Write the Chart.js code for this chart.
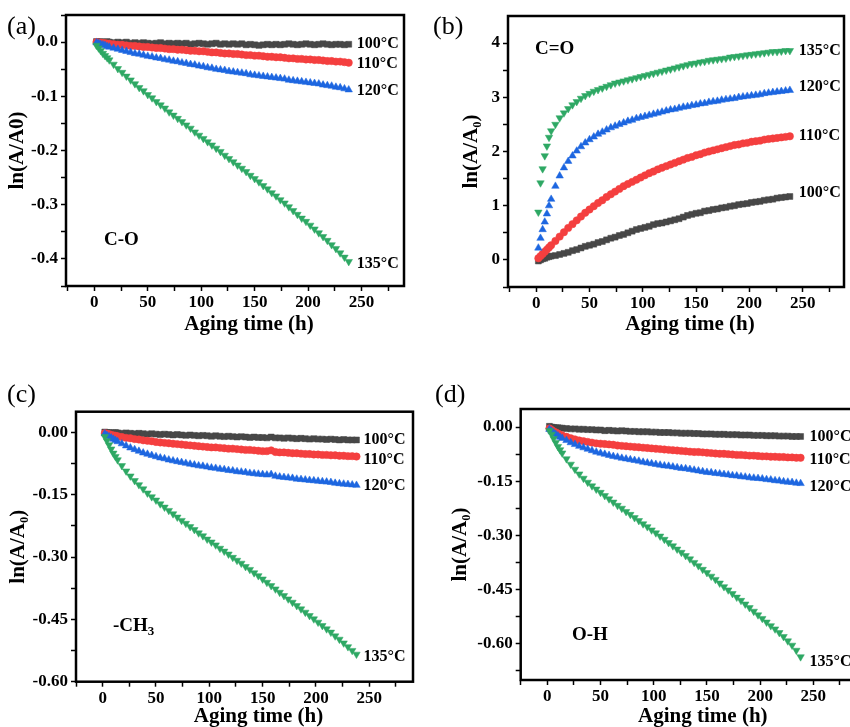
<!DOCTYPE html>
<html lang="en">
<head>
<meta charset="UTF-8">
<title>ln(A/A0) vs aging time</title>
<script src="https://cdn.jsdelivr.net/npm/chart.js"></script>
<style>
  body { margin: 0; background: #fff; width: 850px; height: 727px; overflow: hidden; position: relative; font-family: 'Liberation Serif', 'Times New Roman', serif; }
  canvas { position: absolute; }
  .tag { position: absolute; font-size: 26px; line-height: 26px; color: #000; }
  .grp { position: absolute; font-size: 19px; line-height: 19px; font-weight: bold; color: #000; }
  .grp sub { font-size: 13px; vertical-align: -4px; line-height: 0; }
</style>
</head>
<body>
<canvas id="chA" width="425" height="345" style="left:0;top:0"></canvas>
<canvas id="chB" width="425" height="345" style="left:425px;top:0"></canvas>
<canvas id="chC" width="425" height="357" style="left:0;top:370px"></canvas>
<canvas id="chD" width="444" height="357" style="left:425px;top:370px"></canvas>

<div class="tag" style="left:7px;top:13px">(a)</div>
<div class="tag" style="left:433px;top:13px">(b)</div>
<div class="tag" style="left:7px;top:381px">(c)</div>
<div class="tag" style="left:435px;top:381px">(d)</div>

<div class="grp" style="left:104px;top:229px">C-O</div>
<div class="grp" style="left:535px;top:38px">C=O</div>
<div class="grp" style="left:113px;top:615px">-CH<sub>3</sub></div>
<div class="grp" style="left:572px;top:624px">O-H</div>

<script>
// aging time (h) shared by every series
const hours = [2, 4, 6, 8, 10, 12, 14,
  18, 22, 26, 30, 34, 38, 42, 46,
  50, 54, 58, 62, 66, 70, 74, 78,
  82, 86, 90, 94, 98, 102, 106, 110,
  114, 118, 122, 126, 130, 134, 138, 142,
  146, 150, 154, 158, 162, 166, 170, 174,
  178, 182, 186, 190, 194, 198, 202, 206,
  210, 214, 218, 222, 226, 230, 234, 238];

const temps = ['100°C', '110°C', '120°C', '135°C'];

// (a) C-O
const co100 = [0.001,0.000,0.001,0.000,-0.001,0.001,0.000,
  -0.001,0.000,-0.001,0.000,-0.002,-0.001,-0.002,-0.001,
  -0.002,-0.003,-0.002,-0.001,-0.003,-0.002,-0.003,-0.002,
  -0.003,-0.002,-0.004,-0.003,-0.002,-0.003,-0.004,-0.003,
  -0.002,-0.004,-0.003,-0.004,-0.003,-0.004,-0.003,-0.005,
  -0.004,-0.005,-0.006,-0.005,-0.004,-0.005,-0.004,-0.005,
  -0.004,-0.003,-0.004,-0.005,-0.004,-0.003,-0.004,-0.005,
  -0.004,-0.003,-0.004,-0.005,-0.004,-0.004,-0.005,-0.004];
const co110 = [0.000,-0.001,-0.001,-0.002,-0.002,-0.003,-0.003,
  -0.004,-0.005,-0.005,-0.006,-0.007,-0.007,-0.008,-0.009,
  -0.009,-0.010,-0.011,-0.011,-0.012,-0.013,-0.013,-0.014,
  -0.014,-0.015,-0.016,-0.016,-0.017,-0.017,-0.018,-0.019,
  -0.019,-0.020,-0.021,-0.021,-0.022,-0.022,-0.023,-0.024,
  -0.024,-0.025,-0.025,-0.026,-0.027,-0.027,-0.028,-0.028,
  -0.029,-0.030,-0.030,-0.031,-0.031,-0.032,-0.032,-0.033,
  -0.033,-0.034,-0.035,-0.035,-0.036,-0.036,-0.037,-0.038];
const co120 = [-0.001,-0.002,-0.004,-0.005,-0.006,-0.008,-0.009,
  -0.011,-0.013,-0.015,-0.017,-0.019,-0.021,-0.022,-0.024,
  -0.026,-0.027,-0.029,-0.030,-0.032,-0.033,-0.035,-0.036,
  -0.038,-0.039,-0.041,-0.042,-0.044,-0.045,-0.047,-0.048,
  -0.050,-0.051,-0.052,-0.054,-0.055,-0.056,-0.057,-0.058,
  -0.060,-0.061,-0.062,-0.063,-0.064,-0.065,-0.066,-0.067,
  -0.068,-0.070,-0.071,-0.072,-0.073,-0.074,-0.075,-0.076,
  -0.077,-0.079,-0.080,-0.081,-0.083,-0.084,-0.086,-0.088];
const co135 = [-0.006,-0.011,-0.016,-0.021,-0.025,-0.029,-0.033,
  -0.041,-0.049,-0.056,-0.063,-0.070,-0.077,-0.084,-0.090,
  -0.097,-0.103,-0.110,-0.116,-0.122,-0.129,-0.135,-0.141,
  -0.147,-0.153,-0.159,-0.166,-0.172,-0.178,-0.184,-0.190,
  -0.196,-0.202,-0.209,-0.215,-0.221,-0.227,-0.233,-0.239,
  -0.246,-0.252,-0.258,-0.265,-0.271,-0.278,-0.284,-0.291,
  -0.297,-0.304,-0.311,-0.318,-0.325,-0.331,-0.338,-0.345,
  -0.352,-0.359,-0.366,-0.374,-0.381,-0.389,-0.397,-0.405];

// (b) C=O
const cdo100 = [-0.02,0.00,0.02,0.03,0.05,0.06,0.07,
  0.08,0.10,0.12,0.14,0.17,0.19,0.22,0.25,
  0.27,0.29,0.32,0.34,0.37,0.40,0.42,0.45,
  0.47,0.50,0.53,0.56,0.58,0.60,0.62,0.65,
  0.67,0.68,0.70,0.72,0.74,0.76,0.79,0.82,
  0.84,0.86,0.87,0.90,0.91,0.93,0.94,0.96,
  0.97,0.99,1.00,1.02,1.03,1.04,1.06,1.07,
  1.08,1.10,1.11,1.12,1.14,1.15,1.16,1.17];
const cdo110 = [0.03,0.07,0.11,0.15,0.19,0.23,0.27,
  0.35,0.43,0.51,0.59,0.66,0.73,0.80,0.87,
  0.93,0.99,1.05,1.10,1.16,1.21,1.26,1.31,
  1.36,1.40,1.44,1.48,1.52,1.56,1.60,1.63,
  1.67,1.70,1.73,1.76,1.79,1.82,1.85,1.88,
  1.90,1.93,1.95,1.98,2.00,2.02,2.04,2.06,
  2.08,2.10,2.12,2.13,2.15,2.16,2.18,2.19,
  2.20,2.22,2.23,2.24,2.25,2.26,2.27,2.28];
const cdo120 = [0.22,0.40,0.56,0.70,0.85,1.00,1.12,
  1.36,1.55,1.70,1.82,1.92,2.01,2.09,2.16,
  2.22,2.27,2.32,2.36,2.40,2.44,2.47,2.50,
  2.53,2.56,2.58,2.61,2.63,2.65,2.67,2.69,
  2.71,2.73,2.75,2.77,2.78,2.80,2.82,2.83,
  2.85,2.86,2.88,2.89,2.91,2.92,2.93,2.95,
  2.96,2.97,2.98,3.00,3.01,3.02,3.03,3.04,
  3.05,3.07,3.08,3.09,3.10,3.11,3.12,3.13];
const cdo135 = [0.88,1.42,1.68,1.92,2.10,2.26,2.38,
  2.50,2.62,2.71,2.79,2.86,2.92,2.98,3.03,
  3.07,3.11,3.14,3.17,3.20,3.23,3.26,3.28,
  3.30,3.32,3.34,3.36,3.38,3.40,3.42,3.44,
  3.46,3.48,3.50,3.52,3.54,3.56,3.58,3.60,
  3.62,3.63,3.65,3.66,3.68,3.69,3.70,3.71,
  3.72,3.74,3.75,3.76,3.77,3.78,3.79,3.80,
  3.81,3.82,3.83,3.84,3.84,3.85,3.86,3.86];

// (c) -CH3
const ch100 = [0.001,0.000,0.000,-0.001,-0.001,0.000,-0.001,
  -0.002,-0.001,-0.002,-0.003,-0.002,-0.003,-0.004,-0.003,
  -0.004,-0.005,-0.004,-0.005,-0.006,-0.005,-0.006,-0.007,
  -0.006,-0.007,-0.008,-0.007,-0.008,-0.009,-0.008,-0.009,
  -0.010,-0.009,-0.010,-0.011,-0.010,-0.011,-0.012,-0.011,
  -0.012,-0.012,-0.013,-0.011,-0.013,-0.013,-0.014,-0.013,
  -0.014,-0.015,-0.014,-0.015,-0.016,-0.015,-0.016,-0.016,
  -0.017,-0.016,-0.017,-0.018,-0.017,-0.018,-0.018,-0.018];
const ch110 = [-0.002,-0.003,-0.004,-0.006,-0.007,-0.008,-0.009,
  -0.011,-0.013,-0.014,-0.016,-0.017,-0.019,-0.020,-0.021,
  -0.023,-0.024,-0.025,-0.026,-0.027,-0.028,-0.029,-0.030,
  -0.031,-0.032,-0.033,-0.034,-0.035,-0.036,-0.036,-0.037,
  -0.038,-0.039,-0.039,-0.040,-0.041,-0.042,-0.042,-0.043,
  -0.044,-0.045,-0.045,-0.043,-0.047,-0.048,-0.048,-0.049,
  -0.050,-0.050,-0.051,-0.052,-0.052,-0.053,-0.053,-0.054,
  -0.054,-0.055,-0.055,-0.056,-0.056,-0.057,-0.057,-0.058];
const ch120 = [-0.003,-0.007,-0.010,-0.013,-0.016,-0.019,-0.022,
  -0.027,-0.032,-0.037,-0.041,-0.045,-0.049,-0.052,-0.055,
  -0.058,-0.061,-0.063,-0.066,-0.068,-0.070,-0.072,-0.074,
  -0.076,-0.078,-0.080,-0.081,-0.083,-0.085,-0.086,-0.088,
  -0.089,-0.091,-0.092,-0.094,-0.095,-0.096,-0.098,-0.099,
  -0.100,-0.101,-0.102,-0.101,-0.105,-0.107,-0.108,-0.109,
  -0.110,-0.112,-0.113,-0.114,-0.115,-0.116,-0.117,-0.118,
  -0.119,-0.120,-0.122,-0.123,-0.124,-0.125,-0.126,-0.127];
const ch135 = [-0.010,-0.020,-0.030,-0.040,-0.050,-0.058,-0.066,
  -0.080,-0.093,-0.105,-0.116,-0.126,-0.136,-0.146,-0.155,
  -0.163,-0.172,-0.180,-0.188,-0.196,-0.204,-0.212,-0.219,
  -0.227,-0.234,-0.242,-0.249,-0.257,-0.264,-0.271,-0.279,
  -0.286,-0.293,-0.301,-0.308,-0.315,-0.323,-0.330,-0.338,
  -0.345,-0.353,-0.361,-0.369,-0.377,-0.385,-0.393,-0.401,
  -0.409,-0.417,-0.425,-0.433,-0.441,-0.449,-0.457,-0.465,
  -0.473,-0.481,-0.490,-0.498,-0.507,-0.516,-0.525,-0.534];

// (d) O-H
const oh100 = [0.002,0.000,-0.001,-0.002,-0.002,-0.003,-0.003,
  -0.004,-0.005,-0.005,-0.006,-0.006,-0.007,-0.007,-0.008,
  -0.008,-0.010,-0.009,-0.010,-0.011,-0.010,-0.011,-0.012,
  -0.012,-0.013,-0.013,-0.013,-0.014,-0.014,-0.015,-0.015,
  -0.015,-0.016,-0.016,-0.017,-0.017,-0.017,-0.018,-0.018,
  -0.019,-0.019,-0.019,-0.020,-0.020,-0.020,-0.021,-0.021,
  -0.021,-0.022,-0.022,-0.022,-0.023,-0.023,-0.023,-0.024,
  -0.024,-0.024,-0.025,-0.025,-0.025,-0.026,-0.026,-0.026];
const oh110 = [-0.004,-0.008,-0.012,-0.015,-0.018,-0.021,-0.023,
  -0.027,-0.031,-0.034,-0.037,-0.039,-0.041,-0.043,-0.045,
  -0.046,-0.047,-0.048,-0.049,-0.051,-0.052,-0.053,-0.054,
  -0.055,-0.056,-0.057,-0.058,-0.059,-0.060,-0.061,-0.062,
  -0.063,-0.064,-0.065,-0.066,-0.067,-0.068,-0.069,-0.069,
  -0.070,-0.071,-0.072,-0.073,-0.074,-0.074,-0.075,-0.076,
  -0.077,-0.077,-0.078,-0.079,-0.079,-0.080,-0.081,-0.081,
  -0.082,-0.082,-0.083,-0.083,-0.084,-0.084,-0.085,-0.085];
const oh120 = [-0.006,-0.011,-0.016,-0.020,-0.024,-0.028,-0.031,
  -0.037,-0.043,-0.048,-0.053,-0.057,-0.061,-0.065,-0.069,
  -0.072,-0.075,-0.078,-0.081,-0.083,-0.086,-0.088,-0.090,
  -0.092,-0.094,-0.097,-0.099,-0.101,-0.103,-0.105,-0.107,
  -0.108,-0.110,-0.112,-0.114,-0.115,-0.117,-0.119,-0.121,
  -0.123,-0.125,-0.126,-0.128,-0.129,-0.131,-0.132,-0.134,
  -0.135,-0.137,-0.138,-0.140,-0.141,-0.142,-0.143,-0.145,
  -0.146,-0.148,-0.149,-0.151,-0.152,-0.153,-0.155,-0.156];
const oh135 = [-0.010,-0.020,-0.032,-0.043,-0.054,-0.063,-0.072,
  -0.088,-0.103,-0.117,-0.130,-0.142,-0.153,-0.163,-0.172,
  -0.181,-0.190,-0.199,-0.208,-0.217,-0.225,-0.234,-0.242,
  -0.251,-0.259,-0.268,-0.276,-0.285,-0.293,-0.302,-0.311,
  -0.320,-0.329,-0.338,-0.347,-0.356,-0.365,-0.375,-0.384,
  -0.394,-0.403,-0.413,-0.422,-0.432,-0.442,-0.451,-0.461,
  -0.471,-0.480,-0.490,-0.500,-0.510,-0.520,-0.530,-0.540,
  -0.550,-0.559,-0.569,-0.580,-0.592,-0.604,-0.618,-0.636];

// axis ticks
const xMajor = [0, 50, 100, 150, 200, 250];
const xMinor = [-25, 25, 75, 125, 175, 225, 275];
const yMajorA = [0, -0.1, -0.2, -0.3, -0.4];
const yMinorA = [0.05, -0.05, -0.15, -0.25, -0.35, -0.45];
const yMajorB = [0, 1, 2, 3, 4];
const yMinorB = [-0.5, 0.5, 1.5, 2.5, 3.5];
const yMajorC = [0, -0.15, -0.30, -0.45, -0.60];
const yMinorC = [-0.075, -0.225, -0.375, -0.525];
const yMajorD = [0, -0.15, -0.30, -0.45, -0.60];
const yMinorD = [-0.075, -0.225, -0.375, -0.525, -0.675];

const colors = ['#474747', '#f43f3f', '#1d66e0', '#2ea864'];
const shapes = ['rect', 'circle', 'triangle', 'triangle'];
const sizes = [4.2, 3.7, 4.3, 4.3];
const serif = "'Liberation Serif', 'Times New Roman', serif";

Chart.defaults.font.family = serif;
Chart.defaults.color = '#000';

const framePlugin = {
  id: 'frame',
  afterDraw(chart) {
    const a = chart.chartArea, ctx = chart.ctx;
    ctx.save();
    ctx.lineWidth = 2.5;
    ctx.strokeStyle = '#000';
    ctx.strokeRect(a.left, a.top, a.right - a.left, a.bottom - a.top);
    ctx.restore();
  }
};

// x title, Origin puts it a little right of the frame centre
const xTitle = {
  id: 'xTitle',
  afterDraw(chart, args, opts) {
    const a = chart.chartArea, ctx = chart.ctx;
    ctx.save();
    ctx.font = 'bold 21px ' + serif;
    ctx.fillStyle = '#000';
    ctx.textAlign = 'center';
    ctx.textBaseline = 'middle';
    ctx.fillText('Aging time (h)', (a.left + a.right) / 2 + opts.dx, a.bottom + opts.dy);
    ctx.restore();
  }
};

// temperature tag next to the last point of each series
const endLabels = {
  id: 'endLabels',
  afterDatasetsDraw(chart, args, opts) {
    const ctx = chart.ctx;
    ctx.save();
    ctx.font = 'bold 16px ' + serif;
    ctx.fillStyle = '#000';
    ctx.textBaseline = 'middle';
    chart.data.datasets.forEach((ds, i) => {
      const pts = chart.getDatasetMeta(i).data;
      const p = pts[pts.length - 1];
      ctx.fillText(ds.label, p.x + opts.dx, p.y + opts.dy[ds.idx]);
    });
    ctx.restore();
  }
};

function makeTicks(major, minor) {
  return major.concat(minor).sort((a, b) => a - b).map(v => ({ value: v }));
}

function makePanel(id, series, p) {
  const datasets = series.map((arr, i) => ({
    label: temps[i],
    idx: i,
    order: 3 - i,
    data: hours.map((h, k) => ({ x: h, y: arr[k] })),
    showLine: false,
    pointStyle: shapes[i],
    rotation: i === 3 ? 180 : 0,
    pointRadius: sizes[i],
    pointBorderWidth: 0.5,
    backgroundColor: colors[i],
    borderColor: colors[i]
  }));
  new Chart(document.getElementById(id), {
    type: 'scatter',
    data: { datasets },
    options: {
      responsive: false,
      animation: false,
      devicePixelRatio: 1,
      layout: { padding: { left: 0, top: p.padTop, right: p.padRight, bottom: 0 } },
      plugins: {
        legend: { display: false },
        tooltip: { enabled: false },
        endLabels: { dx: p.labelDx, dy: p.labelDy },
        xTitle: { dx: 14, dy: p.xTitleY }
      },
      scales: {
        x: {
          type: 'linear',
          min: p.xMin, max: p.xMax,
          afterBuildTicks: s => { s.ticks = makeTicks(xMajor, xMinor); },
          afterFit: s => { s.height = p.xAxisH; },
          border: { display: false },
          grid: { drawOnChartArea: false, drawTicks: true, tickLength: 5, tickColor: '#000', tickWidth: 1.5 },
          ticks: {
            autoSkip: false, maxRotation: 0, padding: 3,
            font: { size: 17, weight: 'bold', lineHeight: 1 },
            callback: v => xMajor.includes(v) ? String(v) : ''
          },
          title: { display: false }
        },
        y: {
          type: 'linear',
          min: p.yMin, max: p.yMax,
          afterBuildTicks: s => { s.ticks = makeTicks(p.yMajor, p.yMinor); },
          afterFit: s => { s.width = p.yAxisW; },
          border: { display: false },
          grid: { drawOnChartArea: false, drawTicks: true, tickLength: 5, tickColor: '#000', tickWidth: 1.5 },
          ticks: {
            autoSkip: false, padding: 3,
            font: { size: 17, weight: 'bold', lineHeight: 1 },
            callback: v => p.yMajor.includes(v) ? v.toFixed(p.digits) : ''
          },
          title: {
            display: true, text: p.yTitle,
            font: { size: 21, weight: 'bold', lineHeight: 1 },
            padding: { top: p.yTitlePad, bottom: 0 }
          }
        }
      }
    },
    plugins: [framePlugin, endLabels, xTitle]
  });
}

makePanel('chA', [co100, co110, co120, co135], {
  padTop: 15, padRight: 21, xAxisH: 59, yAxisW: 66,
  xMin: -26.5, xMax: 289.7, yMin: -0.45, yMax: 0.05,
  yMajor: yMajorA, yMinor: yMinorA, digits: 1,
  yTitle: 'ln(A/A0)', yTitlePad: 7.5, xTitleY: 39,
  labelDx: 8, labelDy: [0, 1, 1, 2]
});
makePanel('chB', [cdo100, cdo110, cdo120, cdo135], {
  padTop: 16, padRight: 6, xAxisH: 58, yAxisW: 83,
  xMin: -26.5, xMax: 288.8, yMin: -0.5, yMax: 4.5,
  yMajor: yMajorB, yMinor: yMinorB, digits: 0,
  yTitle: 'ln(A/A₀)', yTitlePad: 36, xTitleY: 38,
  labelDx: 9, labelDy: [-4, 0, -3, 0]
});
makePanel('chC', [ch100, ch110, ch120, ch135], {
  padTop: 41.7, padRight: 12, xAxisH: 45.3, yAxisW: 76,
  xMin: -25, xMax: 291, yMin: -0.60, yMax: 0.05,
  yMajor: yMajorC, yMinor: yMinorC, digits: 2,
  yTitle: 'ln(A/A₀)', yTitlePad: 7.8, xTitleY: 35,
  labelDx: 7, labelDy: [0, 3, 1, 3]
});
makePanel('chD', [oh100, oh110, oh120, oh135], {
  padTop: 39, padRight: 12, xAxisH: 47, yAxisW: 95.7,
  xMin: -25, xMax: 291, yMin: -0.70, yMax: 0.05,
  yMajor: yMajorD, yMinor: yMinorD, digits: 2,
  yTitle: 'ln(A/A₀)', yTitlePad: 25.5, xTitleY: 36.5,
  labelDx: 9, labelDy: [0, 2, 3, 5]
});
</script>
</body>
</html>
